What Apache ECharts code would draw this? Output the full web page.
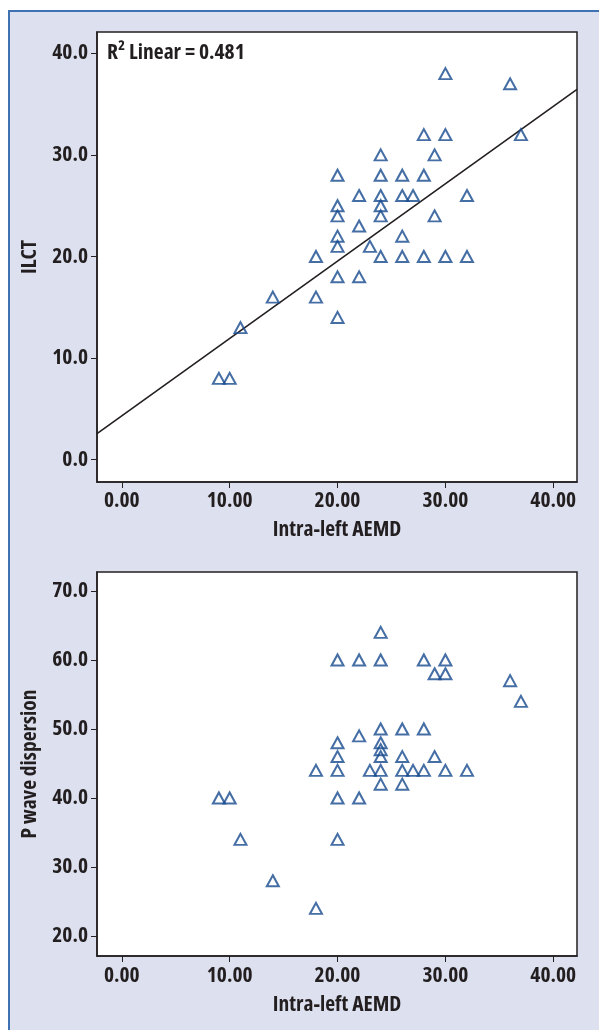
<!DOCTYPE html>
<html><head><meta charset="utf-8">
<script src="https://cdn.jsdelivr.net/npm/echarts@6/dist/echarts.min.js"></script>
<style>
html,body{margin:0;padding:0;background:#fff;}
#frame{position:absolute;left:8px;top:10px;width:591px;height:1020px;background:#dde0ee;border-left:2px solid #3f72b3;border-top:2px solid #3f72b3;box-sizing:border-box;}
#chart{position:absolute;left:0;top:0;width:599px;height:1030px;}
</style></head><body>
<div id="frame"></div><div id="chart"></div>
<script>
// Top panel: Intra-left AEMD vs ILCT
const aemdTop = [9,10,11,14,18,18,20,20,20,20,20,20,20,22,22,22,23,24,24,24,24,24,24,26,26,26,26,27,28,28,28,29,29,30,30,30,32,32,36,37];
const ilct    = [8,8,13,16,16,20,14,18,21,22,24,25,28,18,23,26,21,20,24,25,26,28,30,20,22,26,28,26,20,28,32,24,30,20,32,38,20,26,37,32];
// Bottom panel: Intra-left AEMD vs P wave dispersion
const aemdBottom = [9,10,11,14,18,18,20,20,20,20,20,20,22,22,22,23,24,24,24,24,24,24,24,24,26,26,26,26,27,28,28,28,29,29,30,30,30,32,36,37];
const pwd        = [40,40,34,28,44,24,60,48,46,44,40,34,60,49,40,44,64,60,50,48,47,46,44,42,50,46,44,42,44,60,50,44,58,46,60,58,44,44,57,54];
// Axis ticks
const xTicks = [0,10,20,30,40];
const ilctTicks = [0,10,20,30,40];
const pwdTicks = [20,30,40,50,60,70];
// Fit line endpoints (read at the plot edges)
const fitEnds = [[-2.3, 2.56],[42.2, 36.45]];
const r2Label = 'R\u00B2 Linear = 0.481';
const xName = 'Intra-left AEMD';
const yNameTop = 'ILCT';
const yNameBottom = 'P wave dispersion';

const ink = '#231f20';
const family = '"Open Sans","Liberation Sans",sans-serif';
const txt = {color: ink, fontFamily: family, fontStyle: 'condensed', fontSize: 21.5, fontWeight: 'bold'};
const markerColor = '#174a8f';

function xAxis(gi, gap, margin){
  return {
    gridIndex: gi, type:'value', min:-2.3, max:42.2,
    name: xName, nameLocation:'middle', nameGap: gap, nameTextStyle: txt,
    axisLine:{show:true, onZero:false, lineStyle:{color:ink, width:1.5}},
    axisTick:{show:true, customValues:xTicks, length:6, lineStyle:{color:ink, width:1}},
    axisLabel:Object.assign({customValues:xTicks, margin:margin, formatter:v=>Number(v).toFixed(2)}, txt),
    splitLine:{show:false}
  };
}
function yAxis(gi, min, max, ticks, name){
  return {
    gridIndex: gi, type:'value', min:min, max:max,
    name: name, nameLocation:'middle', nameGap: 52, nameRotate: 90, nameTextStyle: txt,
    axisLine:{show:true, onZero:false, lineStyle:{color:ink, width:1.5}},
    axisTick:{show:true, customValues:ticks, length:6, lineStyle:{color:ink, width:1}},
    axisLabel:Object.assign({customValues:ticks, margin:9, formatter:v=>Number(v).toFixed(1)}, txt),
    splitLine:{show:false}
  };
}
const markerStyle = {color:'rgba(0,0,0,0)', borderColor:markerColor, borderWidth:2};

const chart = echarts.init(document.getElementById('chart'), null, {renderer:'canvas'});
chart.setOption({
  backgroundColor:'transparent',
  animation:false,
  grid:[
    {left:97, top:32, width:480, height:450, show:true, backgroundColor:'#fff', borderColor:ink, borderWidth:1.5},
    {left:97, top:572, width:480, height:384, show:true, backgroundColor:'#fff', borderColor:ink, borderWidth:1.5}
  ],
  xAxis:[xAxis(0, 37, 8), xAxis(1, 38, 9)],
  yAxis:[yAxis(0, -2.2, 42.1, ilctTicks, yNameTop), yAxis(1, 17.1, 72.75, pwdTicks, yNameBottom)],
  graphic:[{type:'text', left:107, top:42, style:{text:r2Label, fill:ink, font:'condensed bold 21.5px ' + family}}],
  series:[
    {type:'line', xAxisIndex:0, yAxisIndex:0, data:fitEnds, showSymbol:false, symbol:'none',
     lineStyle:{color:ink, width:1.6}, silent:true, z:1},
    {type:'scatter', xAxisIndex:0, yAxisIndex:0, data:aemdTop.map((x,i)=>[x, ilct[i]]),
     symbol:'triangle', symbolSize:[12,11], itemStyle:markerStyle, silent:true, z:2},
    {type:'scatter', xAxisIndex:1, yAxisIndex:1, data:aemdBottom.map((x,i)=>[x, pwd[i]]),
     symbol:'triangle', symbolSize:[12,11], itemStyle:markerStyle, silent:true, z:2}
  ]
});
</script></body></html>
